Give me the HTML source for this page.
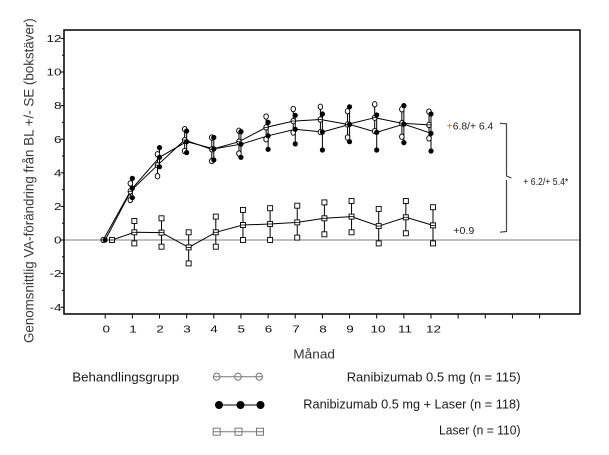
<!DOCTYPE html>
<html><head><meta charset="utf-8"><style>
html,body{margin:0;padding:0;background:#fff;}
svg{display:block;}
text{font-family:"Liberation Sans","DejaVu Sans",sans-serif;}
</style></head><body>
<svg width="609" height="455" viewBox="0 0 609 455" xmlns="http://www.w3.org/2000/svg">
<defs>
<g id="oc"><ellipse cx="0" cy="0" rx="2.3" ry="2.7" fill="#fff" stroke="#000" stroke-width="0.9"/></g>
<g id="ocm"><ellipse cx="0" cy="0" rx="2.3" ry="2.7" fill="#fff" stroke="#000" stroke-width="0.9"/><line x1="-2.3" y1="0" x2="2.3" y2="0" stroke="#000" stroke-width="0.8"/></g>
<g id="fc"><circle cx="0" cy="0" r="2.6" fill="#000"/></g>
<g id="sq"><rect x="-2.5" y="-2.5" width="5" height="5" fill="#fff" stroke="#000" stroke-width="0.9"/></g>
<g id="sqm"><rect x="-2.5" y="-2.5" width="5" height="5" fill="#fff" stroke="#000" stroke-width="0.9"/><line x1="-2.5" y1="0" x2="2.5" y2="0" stroke="#000" stroke-width="0.8"/></g>
</defs>

<!-- zero line -->
<line x1="64.5" y1="240" x2="579.5" y2="240" stroke="#808080" stroke-width="1"/>

<!-- frame -->
<rect x="64" y="30" width="516" height="284" fill="none" stroke="#000" stroke-width="1.5"/>

<!-- y ticks -->
<g stroke="#000" stroke-width="1">
<line x1="60.5" y1="307.2" x2="64" y2="307.2"/>
<line x1="60.5" y1="273.6" x2="64" y2="273.6"/>
<line x1="60.5" y1="240" x2="64" y2="240"/>
<line x1="60.5" y1="206.4" x2="64" y2="206.4"/>
<line x1="60.5" y1="172.8" x2="64" y2="172.8"/>
<line x1="60.5" y1="139.2" x2="64" y2="139.2"/>
<line x1="60.5" y1="105.6" x2="64" y2="105.6"/>
<line x1="60.5" y1="72" x2="64" y2="72"/>
<line x1="60.5" y1="38.4" x2="64" y2="38.4"/>
<line x1="62" y1="290.4" x2="64" y2="290.4"/>
<line x1="62" y1="256.8" x2="64" y2="256.8"/>
<line x1="62" y1="223.2" x2="64" y2="223.2"/>
<line x1="62" y1="189.6" x2="64" y2="189.6"/>
<line x1="62" y1="156" x2="64" y2="156"/>
<line x1="62" y1="122.4" x2="64" y2="122.4"/>
<line x1="62" y1="88.8" x2="64" y2="88.8"/>
<line x1="62" y1="55.2" x2="64" y2="55.2"/>
</g>

<!-- y labels -->
<g font-size="10" fill="#111" text-anchor="end">
<text transform="translate(61.5,310.8) scale(1.35,1)">-4</text>
<text transform="translate(61.5,277.2) scale(1.35,1)">-2</text>
<text transform="translate(61.5,243.6) scale(1.35,1)">0</text>
<text transform="translate(61.5,210) scale(1.35,1)">2</text>
<text transform="translate(61.5,176.4) scale(1.35,1)">4</text>
<text transform="translate(61.5,142.8) scale(1.35,1)">6</text>
<text transform="translate(61.5,109.2) scale(1.35,1)">8</text>
<text transform="translate(61.5,75.6) scale(1.35,1)">10</text>
<text transform="translate(61.5,42) scale(1.35,1)">12</text>
</g>

<!-- x ticks -->
<g stroke="#000" stroke-width="1">
<line x1="105.2" y1="314" x2="105.2" y2="318.5"/>
<line x1="132.35" y1="314" x2="132.35" y2="318.5"/>
<line x1="159.5" y1="314" x2="159.5" y2="318.5"/>
<line x1="186.65" y1="314" x2="186.65" y2="318.5"/>
<line x1="213.8" y1="314" x2="213.8" y2="318.5"/>
<line x1="240.95" y1="314" x2="240.95" y2="318.5"/>
<line x1="268.1" y1="314" x2="268.1" y2="318.5"/>
<line x1="295.25" y1="314" x2="295.25" y2="318.5"/>
<line x1="322.4" y1="314" x2="322.4" y2="318.5"/>
<line x1="349.55" y1="314" x2="349.55" y2="318.5"/>
<line x1="376.7" y1="314" x2="376.7" y2="318.5"/>
<line x1="403.85" y1="314" x2="403.85" y2="318.5"/>
<line x1="431" y1="314" x2="431" y2="318.5"/>
<line x1="458.15" y1="314" x2="458.15" y2="318.5"/>
<line x1="485.3" y1="314" x2="485.3" y2="318.5"/>
<line x1="512.45" y1="314" x2="512.45" y2="318.5"/>
<line x1="539.6" y1="314" x2="539.6" y2="318.5"/>
</g>

<!-- x labels -->
<g font-size="10" fill="#111" text-anchor="middle">
<text transform="translate(106.2,332.7) scale(1.35,1)">0</text>
<text transform="translate(133,332.7) scale(1.35,1)">1</text>
<text transform="translate(160,332.7) scale(1.35,1)">2</text>
<text transform="translate(187,332.7) scale(1.35,1)">3</text>
<text transform="translate(214,332.7) scale(1.35,1)">4</text>
<text transform="translate(241.2,332.7) scale(1.35,1)">5</text>
<text transform="translate(268.5,332.7) scale(1.35,1)">6</text>
<text transform="translate(296,332.7) scale(1.35,1)">7</text>
<text transform="translate(323,332.7) scale(1.35,1)">8</text>
<text transform="translate(350,332.7) scale(1.35,1)">9</text>
<text transform="translate(378,332.7) scale(1.35,1)">10</text>
<text transform="translate(405,332.7) scale(1.35,1)">11</text>
<text transform="translate(433.5,332.7) scale(1.35,1)">12</text>
</g>

<!-- series lines -->
<g fill="none" stroke="#000" stroke-width="1">
<polyline points="103.2,240 130.35,191.3 157.5,165.2 184.65,140 211.8,149.3 238.95,141.7 266.1,127.4 293.25,121.1 320.4,119.5 347.55,124.4 374.7,117.7 401.85,123.2 429,124.9"/>
<polyline points="105.2,240 132.35,188.3 159.5,157.3 186.65,141.7 213.8,148.9 240.95,144.2 268.1,135.8 295.25,129.3 322.4,132 349.55,124.4 376.7,132.3 403.85,124.1 431,133.3"/>
<polyline points="112,240 134.35,232.3 161.5,232.6 188.65,247.4 215.8,232.3 242.95,225 270.1,224 297.25,222.4 324.4,218.3 351.55,216.6 378.7,226.1 405.85,217.3 433,225.4"/>
</g>

<!-- error bars -->
<g stroke="#000" stroke-width="1">
<line x1="130.35" y1="183.4" x2="130.35" y2="200"/>
<line x1="157.5" y1="154.3" x2="157.5" y2="176.2"/>
<line x1="184.65" y1="129.1" x2="184.65" y2="151"/>
<line x1="211.8" y1="137.5" x2="211.8" y2="161"/>
<line x1="238.95" y1="130.8" x2="238.95" y2="153.5"/>
<line x1="266.1" y1="116.5" x2="266.1" y2="139.2"/>
<line x1="293.25" y1="109" x2="293.25" y2="132.5"/>
<line x1="320.4" y1="106.8" x2="320.4" y2="132.1"/>
<line x1="347.55" y1="111.3" x2="347.55" y2="137.5"/>
<line x1="374.7" y1="104.3" x2="374.7" y2="131.1"/>
<line x1="401.85" y1="109.3" x2="401.85" y2="136.7"/>
<line x1="429" y1="111.6" x2="429" y2="138.4"/>

<line x1="132.35" y1="178.3" x2="132.35" y2="197.7"/>
<line x1="159.5" y1="147.6" x2="159.5" y2="166.8"/>
<line x1="186.65" y1="131" x2="186.65" y2="152.6"/>
<line x1="213.8" y1="137.5" x2="213.8" y2="160"/>
<line x1="240.95" y1="131.6" x2="240.95" y2="157.3"/>
<line x1="268.1" y1="122.4" x2="268.1" y2="149.3"/>
<line x1="295.25" y1="115.3" x2="295.25" y2="143.9"/>
<line x1="322.4" y1="114" x2="322.4" y2="150"/>
<line x1="349.55" y1="106.8" x2="349.55" y2="141.7"/>
<line x1="376.7" y1="115" x2="376.7" y2="150"/>
<line x1="403.85" y1="105.6" x2="403.85" y2="142.6"/>
<line x1="431" y1="114" x2="431" y2="151"/>

<line x1="134.35" y1="221" x2="134.35" y2="243.4"/>
<line x1="161.5" y1="218.3" x2="161.5" y2="246.7"/>
<line x1="188.65" y1="232.3" x2="188.65" y2="263.4"/>
<line x1="215.8" y1="216.6" x2="215.8" y2="246.7"/>
<line x1="242.95" y1="209.9" x2="242.95" y2="240"/>
<line x1="270.1" y1="208.2" x2="270.1" y2="240"/>
<line x1="297.25" y1="205.7" x2="297.25" y2="237.6"/>
<line x1="324.4" y1="202.4" x2="324.4" y2="234.3"/>
<line x1="351.55" y1="201" x2="351.55" y2="232.3"/>
<line x1="378.7" y1="208.9" x2="378.7" y2="243.4"/>
<line x1="405.85" y1="201" x2="405.85" y2="233.3"/>
<line x1="433" y1="207.2" x2="433" y2="243.4"/>
</g>

<!-- laser markers -->
<use href="#sqm" x="112" y="240"/>
<use href="#sq" x="134.35" y="221"/><use href="#sqm" x="134.35" y="232.3"/><use href="#sq" x="134.35" y="243.4"/>
<use href="#sq" x="161.5" y="218.3"/><use href="#sqm" x="161.5" y="232.6"/><use href="#sq" x="161.5" y="246.7"/>
<use href="#sq" x="188.65" y="232.3"/><use href="#sqm" x="188.65" y="247.4"/><use href="#sq" x="188.65" y="263.4"/>
<use href="#sq" x="215.8" y="216.6"/><use href="#sqm" x="215.8" y="232.3"/><use href="#sq" x="215.8" y="246.7"/>
<use href="#sq" x="242.95" y="209.9"/><use href="#sqm" x="242.95" y="225"/><use href="#sq" x="242.95" y="240"/>
<use href="#sq" x="270.1" y="208.2"/><use href="#sqm" x="270.1" y="224"/><use href="#sq" x="270.1" y="240"/>
<use href="#sq" x="297.25" y="205.7"/><use href="#sqm" x="297.25" y="222.4"/><use href="#sq" x="297.25" y="237.6"/>
<use href="#sq" x="324.4" y="202.4"/><use href="#sqm" x="324.4" y="218.3"/><use href="#sq" x="324.4" y="234.3"/>
<use href="#sq" x="351.55" y="201"/><use href="#sqm" x="351.55" y="216.6"/><use href="#sq" x="351.55" y="232.3"/>
<use href="#sq" x="378.7" y="208.9"/><use href="#sqm" x="378.7" y="226.1"/><use href="#sq" x="378.7" y="243.4"/>
<use href="#sq" x="405.85" y="201"/><use href="#sqm" x="405.85" y="217.3"/><use href="#sq" x="405.85" y="233.3"/>
<use href="#sq" x="433" y="207.2"/><use href="#sqm" x="433" y="225.4"/><use href="#sq" x="433" y="243.4"/>

<!-- open circle markers -->
<use href="#ocm" x="103.2" y="240"/>
<use href="#oc" x="130.35" y="183.4"/><use href="#ocm" x="130.35" y="191.3"/><use href="#oc" x="130.35" y="200"/>
<use href="#oc" x="157.5" y="154.3"/><use href="#ocm" x="157.5" y="165.2"/><use href="#oc" x="157.5" y="176.2"/>
<use href="#oc" x="184.65" y="129.1"/><use href="#ocm" x="184.65" y="140"/><use href="#oc" x="184.65" y="151"/>
<use href="#oc" x="211.8" y="137.5"/><use href="#ocm" x="211.8" y="149.3"/><use href="#oc" x="211.8" y="161"/>
<use href="#oc" x="238.95" y="130.8"/><use href="#ocm" x="238.95" y="141.7"/><use href="#oc" x="238.95" y="153.5"/>
<use href="#oc" x="266.1" y="116.5"/><use href="#ocm" x="266.1" y="127.4"/><use href="#oc" x="266.1" y="139.2"/>
<use href="#oc" x="293.25" y="109"/><use href="#ocm" x="293.25" y="121.1"/><use href="#oc" x="293.25" y="132.5"/>
<use href="#oc" x="320.4" y="106.8"/><use href="#ocm" x="320.4" y="119.5"/><use href="#oc" x="320.4" y="132.1"/>
<use href="#oc" x="347.55" y="111.3"/><use href="#ocm" x="347.55" y="124.4"/><use href="#oc" x="347.55" y="137.5"/>
<use href="#oc" x="374.7" y="104.3"/><use href="#ocm" x="374.7" y="117.7"/><use href="#oc" x="374.7" y="131.1"/>
<use href="#oc" x="401.85" y="109.3"/><use href="#ocm" x="401.85" y="123.2"/><use href="#oc" x="401.85" y="136.7"/>
<use href="#oc" x="429" y="111.6"/><use href="#ocm" x="429" y="124.9"/><use href="#oc" x="429" y="138.4"/>

<!-- filled circle markers -->
<use href="#fc" x="105.2" y="240"/>
<use href="#fc" x="132.35" y="178.3"/><use href="#fc" x="132.35" y="188.3"/><use href="#fc" x="132.35" y="197.7"/>
<use href="#fc" x="159.5" y="147.6"/><use href="#fc" x="159.5" y="157.3"/><use href="#fc" x="159.5" y="166.8"/>
<use href="#fc" x="186.65" y="131"/><use href="#fc" x="186.65" y="141.7"/><use href="#fc" x="186.65" y="152.6"/>
<use href="#fc" x="213.8" y="137.5"/><use href="#fc" x="213.8" y="148.9"/><use href="#fc" x="213.8" y="160"/>
<use href="#fc" x="240.95" y="131.6"/><use href="#fc" x="240.95" y="144.2"/><use href="#fc" x="240.95" y="157.3"/>
<use href="#fc" x="268.1" y="122.4"/><use href="#fc" x="268.1" y="135.8"/><use href="#fc" x="268.1" y="149.3"/>
<use href="#fc" x="295.25" y="115.3"/><use href="#fc" x="295.25" y="129.3"/><use href="#fc" x="295.25" y="143.9"/>
<use href="#fc" x="322.4" y="114"/><use href="#fc" x="322.4" y="132"/><use href="#fc" x="322.4" y="150"/>
<use href="#fc" x="349.55" y="106.8"/><use href="#fc" x="349.55" y="124.4"/><use href="#fc" x="349.55" y="141.7"/>
<use href="#fc" x="376.7" y="115"/><use href="#fc" x="376.7" y="132.3"/><use href="#fc" x="376.7" y="150"/>
<use href="#fc" x="403.85" y="105.6"/><use href="#fc" x="403.85" y="124.1"/><use href="#fc" x="403.85" y="142.6"/>
<use href="#fc" x="431" y="114"/><use href="#fc" x="431" y="133.3"/><use href="#fc" x="431" y="151"/>

<!-- annotations -->
<g font-size="10" fill="#222">
<text x="446.7" y="129.3" textLength="46.6" lengthAdjust="spacingAndGlyphs"><tspan fill="#b8741a">+</tspan>6.8/+ 6.4</text>
<text x="523.3" y="185" textLength="45" lengthAdjust="spacingAndGlyphs">+ 6.2/+ 5.4*</text>
<text x="453.3" y="234" textLength="21" lengthAdjust="spacingAndGlyphs">+0.9</text>
</g>
<path d="M500,123.3 L506.5,123.8 L506.5,176 L511.5,178 M506.5,180 L506.5,231.5 L500,232.2" fill="none" stroke="#444" stroke-width="1.2"/>

<!-- axis titles -->
<text x="293.3" y="358.3" font-size="13" fill="#333" textLength="41.7" lengthAdjust="spacingAndGlyphs">Månad</text>
<text transform="translate(33.5,343) rotate(-90)" font-size="13.5" fill="#3a3a3a" textLength="324.7" lengthAdjust="spacingAndGlyphs">Genomsnittlig VA-förändring från BL +/- SE (bokstäver)</text>

<!-- legend -->
<text x="72.3" y="381.5" font-size="13" fill="#1a1a1a" textLength="107" lengthAdjust="spacingAndGlyphs">Behandlingsgrupp</text>
<text x="346.7" y="381.5" font-size="13" fill="#1a1a1a" textLength="174" lengthAdjust="spacingAndGlyphs">Ranibizumab 0.5 mg (n = 115)</text>
<text x="303.3" y="408.5" font-size="13" fill="#1a1a1a" textLength="217" lengthAdjust="spacingAndGlyphs">Ranibizumab 0.5 mg + Laser (n = 118)</text>
<text x="439" y="434.5" font-size="13" fill="#1a1a1a" textLength="81.5" lengthAdjust="spacingAndGlyphs">Laser (n = 110)</text>

<g stroke="#777" stroke-width="1" fill="none">
<line x1="213.5" y1="376.7" x2="262.5" y2="376.7"/>
<ellipse cx="216.7" cy="376.7" rx="3.3" ry="3.6"/>
<ellipse cx="238" cy="376.7" rx="3.3" ry="3.6"/>
<ellipse cx="259.3" cy="376.7" rx="3.3" ry="3.6"/>
</g>
<g>
<line x1="216" y1="405" x2="262" y2="405" stroke="#000" stroke-width="1"/>
<circle cx="219" cy="405" r="4" fill="#000"/>
<circle cx="240.5" cy="405" r="4" fill="#000"/>
<circle cx="260.5" cy="405" r="4" fill="#000"/>
</g>
<g stroke="#777" stroke-width="1" fill="none">
<line x1="213.5" y1="431.7" x2="263.5" y2="431.7"/>
<rect x="213.2" y="428.2" width="7" height="7"/>
<rect x="235" y="428.2" width="7" height="7"/>
<rect x="256.5" y="428.2" width="7" height="7"/>
</g>
</svg>
</body></html>
